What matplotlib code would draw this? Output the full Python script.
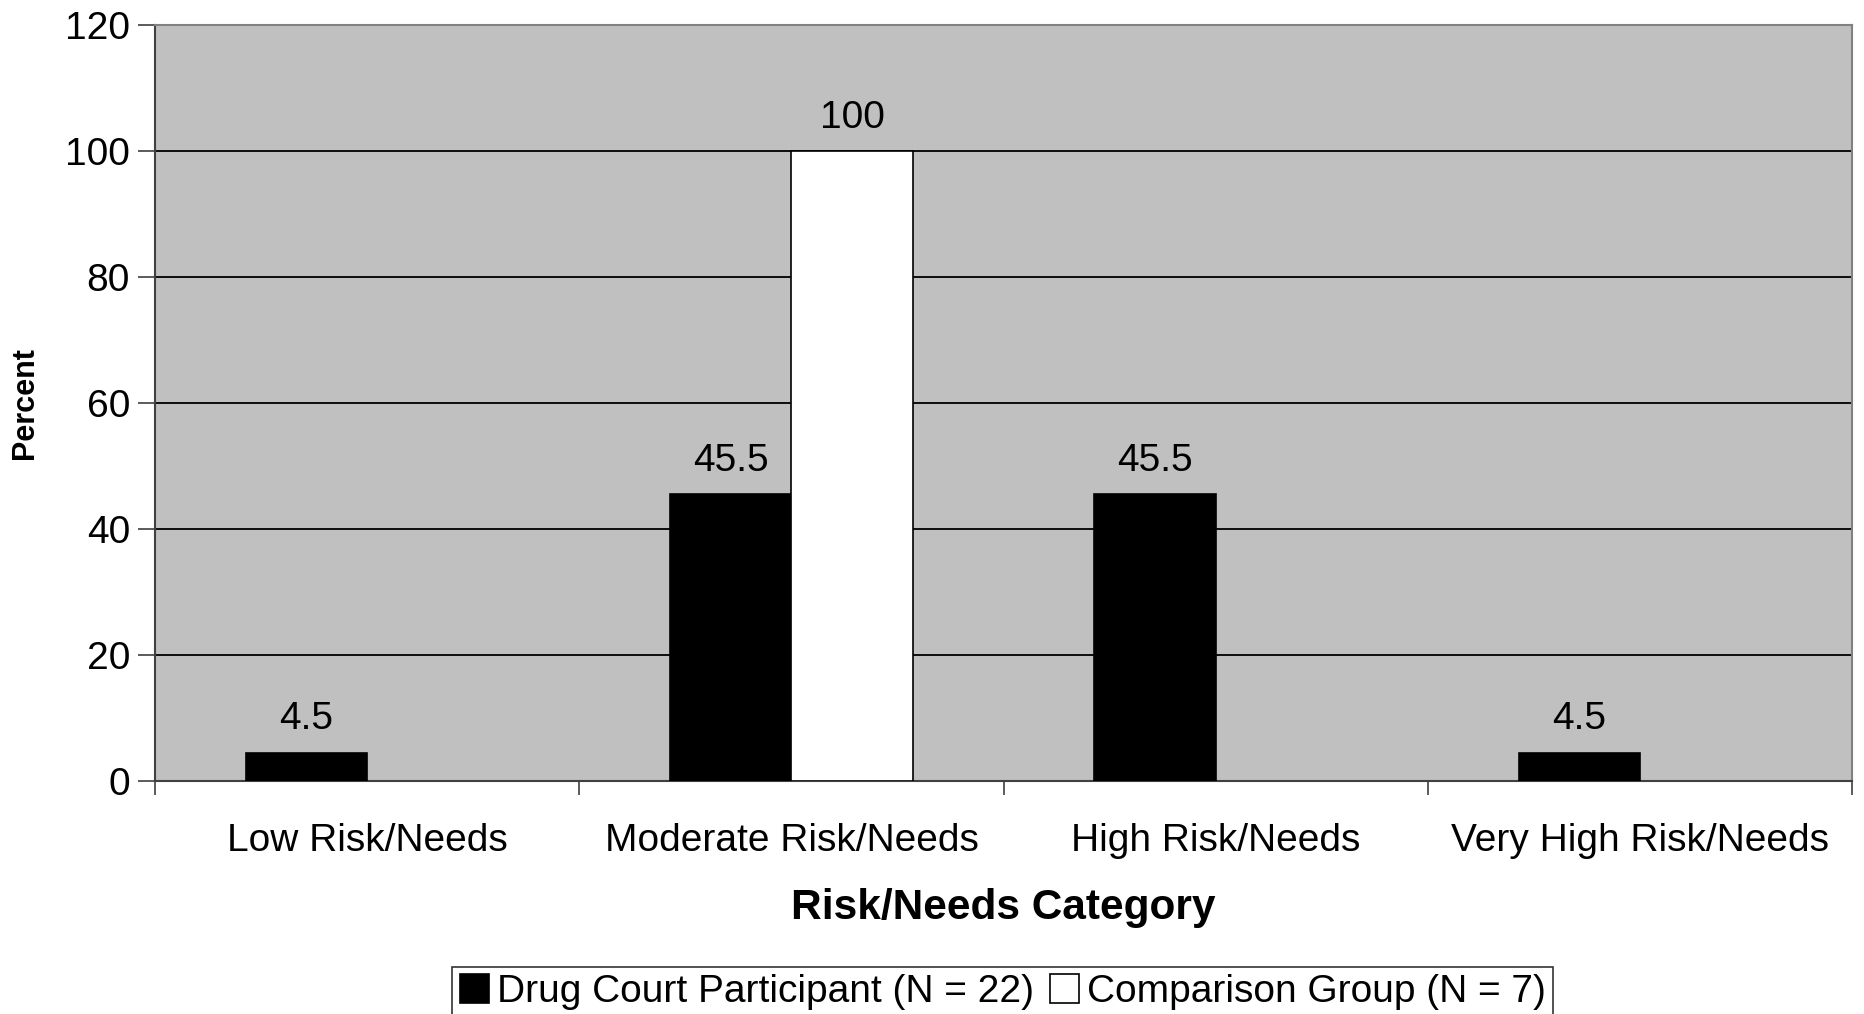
import numpy as np
import matplotlib.pyplot as plt
from matplotlib.patches import Patch

plt.rcParams['font.family'] = ['Liberation Sans', 'DejaVu Sans']

categories = ['Low Risk/Needs', 'Moderate Risk/Needs', 'High Risk/Needs', 'Very High Risk/Needs']
drug_court = [4.5, 45.5, 45.5, 4.5]
comparison = [0, 100, 0, 0]
series_names = ['Drug Court Participant (N = 22)', 'Comparison Group (N = 7)']

fig = plt.figure(figsize=(18.64, 10.14), dpi=100)
ax = fig.add_axes([0.0832, 0.2298, 0.9104, 0.7455])
ax.set_facecolor('#C0C0C0')

x = np.arange(len(categories))
w = 1 / 3.5

b1 = ax.bar(x - w / 2, drug_court, w, color='black', edgecolor='black', linewidth=1.2, zorder=3)
b2 = ax.bar(x + w / 2, comparison, w, color='white', edgecolor='black', linewidth=1.2, zorder=3)

# value labels only on non-empty bars; empty bars get no outline
for bars, vals in ((b1, drug_court), (b2, comparison)):
    for rect, v in zip(bars, vals):
        if v > 0:
            ax.annotate(f'{v:g}', (rect.get_x() + rect.get_width() / 2, v),
                        xytext=(0, 11), textcoords='offset points',
                        ha='center', va='bottom', fontsize=28)
        else:
            rect.set_linewidth(0)

ax.set_xlim(-0.5, len(categories) - 0.5)
ax.set_ylim(0, 120)
ax.set_yticks(range(0, 121, 20))
ax.yaxis.grid(True, color='black', linewidth=1.3, zorder=0)
ax.set_axisbelow(True)

# category labels sit between boundary ticks
ax.set_xticks(np.arange(-0.5, len(categories), 1))
ax.set_xticklabels([])
ax.set_xticks(x, minor=True)
ax.set_xticklabels(categories, minor=True, fontsize=28)
ax.tick_params(axis='x', which='minor', length=0, pad=30)
ax.tick_params(axis='x', which='major', length=10, width=1.2, color='#404040')
ax.tick_params(axis='y', length=12, width=1.2, color='#404040', labelsize=28, pad=6)

for side in ('left', 'bottom'):
    ax.spines[side].set_color('#404040')
    ax.spines[side].set_linewidth(1.5)
for side in ('top', 'right'):
    ax.spines[side].set_color('#808080')
    ax.spines[side].set_linewidth(1.5)

ax.set_xlabel('Risk/Needs Category', fontsize=30.5, fontweight='bold', labelpad=21)
ax.set_ylabel('Percent', fontsize=22, fontweight='bold', labelpad=18)

handles = [Patch(facecolor='black', edgecolor='black', linewidth=1.2),
           Patch(facecolor='white', edgecolor='black', linewidth=1.2)]
leg = fig.legend(handles, series_names, loc='lower center', bbox_to_anchor=(0.538, -0.004),
                 ncol=2, fontsize=28, frameon=True, fancybox=False, edgecolor='black',
                 handlelength=0.75, handleheight=0.75, handletextpad=0.2,
                 columnspacing=0.4, borderpad=0.2, borderaxespad=0)
leg.get_frame().set_linewidth(1.2)

fig.savefig('out.png', dpi=100)
